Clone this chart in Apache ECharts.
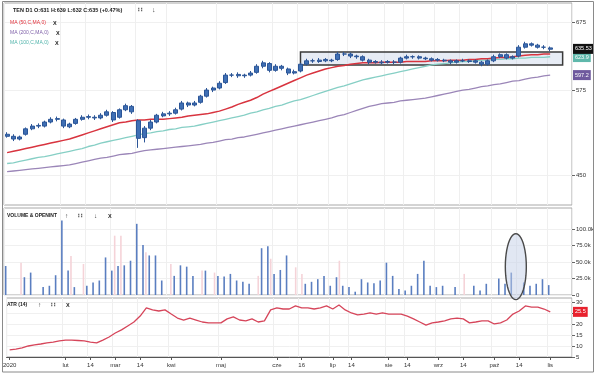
<!DOCTYPE html>
<html><head><meta charset="utf-8">
<script src="https://cdn.jsdelivr.net/npm/echarts@6/dist/echarts.min.js"></script>
<style>html,body{margin:0;padding:0;background:#fff}#c{width:600px;height:377px}</style>
</head><body><div id="c"></div>
<script>
const dates = ['2020-01-03','2020-01-07','2020-01-10','2020-01-14','2020-01-17','2020-01-21','2020-01-24','2020-01-28','2020-01-31',
'2020-02-04','2020-02-07','2020-02-11','2020-02-14','2020-02-18','2020-02-21','2020-02-25','2020-02-28',
'2020-03-03','2020-03-06','2020-03-10','2020-03-13','2020-03-17','2020-03-20','2020-03-24','2020-03-27','2020-03-31',
'2020-04-03','2020-04-07','2020-04-10','2020-04-14','2020-04-17','2020-04-21','2020-04-24','2020-04-28',
'2020-05-01','2020-05-05','2020-05-08','2020-05-12','2020-05-15','2020-05-19','2020-05-22','2020-05-26','2020-05-29',
'2020-06-02','2020-06-05','2020-06-09','2020-06-12','2020-06-16','2020-06-19','2020-06-23','2020-06-26','2020-06-30',
'2020-07-03','2020-07-07','2020-07-10','2020-07-14','2020-07-17','2020-07-21','2020-07-24','2020-07-28','2020-07-31',
'2020-08-04','2020-08-07','2020-08-11','2020-08-14','2020-08-18','2020-08-21','2020-08-25','2020-08-28',
'2020-09-01','2020-09-04','2020-09-08','2020-09-11','2020-09-15','2020-09-18','2020-09-22','2020-09-25','2020-09-29',
'2020-10-02','2020-10-06','2020-10-09','2020-10-13','2020-10-16','2020-10-20','2020-10-23','2020-10-27','2020-10-30',
'2020-11-03','2020-11-06','2020-11-10','2020-11-13'];

const tickDates = ['2020-01-03','2020-02-04','2020-02-18','2020-03-03','2020-03-17','2020-04-03','2020-05-01','2020-06-02','2020-06-16','2020-07-03','2020-07-14','2020-08-04','2020-08-14','2020-09-01','2020-09-15','2020-10-02','2020-10-16','2020-11-03'];
const tickTexts = ['2020','lut','14','mar','14','kwi','maj','cze','16','lip','14','sie','14','wrz','14','paź','14','lis'];

const priceTicks = [450, 575, 675];
const volTicks = [0, 25, 50, 75, 100];
const atrTicks = [5, 10, 15, 20, 25, 30];

const open = [510,507,503,510,518,523,522,528,533,531, 521,526,532,536,535,534,538,542,535,546, 551,530,505,519,528,537,540,541,547,556, 553,557,566,575,578,586,597,598,596,597, 601,610,614,604,610,606,600,603,613,618, 617,620,618,620,628,628,625,624,619,617, 615,617,616,616,622,624,624,622,621,620, 619,618,616,618,617,618,616,613,618,624, 627,622,625,638,643,641,638,637];
const close = [507,503,506,518,522,522,528,532,532,522, 525,532,535,535,534,538,543,531,546,552, 543,504,519,528,538,540,541,546,556,553, 556,566,575,578,585,597,597,596,597,600, 610,615,604,610,607,600,602,613,618,618, 619,618,619,628,628,625,624,619,616,616, 616,616,616,622,624,624,622,621,619,619, 618,616,618,618,618,616,613,618,624,627, 622,624,638,643,641,638,638,635];
const high = [513,510,508,520,525,526,530,535,536,533, 527,534,538,539,538,541,546,544,548,555, 553,532,522,531,540,543,544,549,559,558, 559,568,578,580,588,600,600,601,599,603, 613,618,616,613,612,608,605,615,621,621, 622,622,621,631,631,630,627,626,621,619, 619,619,619,624,627,626,626,624,623,622, 621,620,620,621,620,620,618,620,627,629, 629,626,641,646,645,643,641,639];
const low = [505,500,501,508,516,519,520,526,529,519, 519,524,530,532,531,532,536,528,533,544, 540,490,498,516,526,535,537,539,545,550, 551,555,564,572,576,584,594,593,593,595, 599,607,601,602,604,597,598,601,611,615, 615,616,616,618,625,622,621,617,613,614, 613,614,613,614,620,621,620,619,617,617, 616,613,614,616,615,614,610,611,616,622, 620,620,623,636,639,636,635,632];

const ma50 = [483,485,487,489,491,493,495,497,499,501, 503,506,509,512,515,518,521,524,527,528, 530,531,531,532,532,532,533,534,535,537, 538,539,540,542,544,547,550,554,557,560, 564,569,573,577,581,585,589,593,597,600, 603,606,608,610,611,613,614,615,615,615, 616,616,616,616,617,617,617,617,618,618, 618,619,619,619,620,620,621,621,622,623, 623,624,625,626,627,627,628,628];
const ma100 = [467,468,470,472,474,476,477,479,481,483, 485,487,489,492,494,497,499,501,503,505, 507,509,511,512,514,515,517,518,520,521, 522,524,526,528,530,532,534,536,538,541, 543,546,548,551,553,556,559,561,564,567, 570,573,576,579,581,584,587,590,592,594, 596,598,600,602,604,606,608,610,612,613, 614,615,616,617,617,618,619,619,620,620, 621,621,622,622,623,623,623,624];
const ma200 = [455,456,457,458,459,460,461,462,463,464, 465,467,469,471,473,475,476,478,480,481, 482,484,486,487,488,489,490,491,492,493, 494,495,497,498,500,502,503,505,506,508, 510,512,514,516,518,520,522,524,526,528, 530,532,534,537,539,542,545,548,551,553, 555,556,557,559,560,561,562,563,565,567, 569,571,573,575,576,578,580,581,583,584, 586,588,589,591,593,594,596,597];

const volBlue = [44,0,0,27,34,0,12,14,30,113, 37,12,0,14,19,22,57,37,44,45, 52,108,76,60,60,22,0,29,45,43, 29,0,37,0,29,28,32,22,20,17, 0,71,74,32,38,60,0,0,17,20, 24,29,14,27,14,12,5,24,19,18, 22,49,29,9,7,14,32,52,14,12, 14,0,12,0,0,14,7,17,0,25, 17,34,0,19,14,17,24,15];
const volPink = [0,0,49,0,0,0,0,0,0,0, 59,0,47,0,0,0,0,90,90,0, 0,0,65,0,0,0,47,0,0,0, 0,37,0,34,0,0,0,0,0,0, 29,0,55,0,0,0,42,32,0,0, 0,0,0,52,0,0,0,0,0,0, 0,0,0,0,0,0,0,0,0,0, 0,0,0,32,0,0,0,0,0,0, 0,0,0,0,0,0,0,0];

const atr = [8.2,8.6,9.1,10.0,10.5,10.9,11.4,11.8,12.3,12.7, 12.7,12.5,12.3,11.8,11.4,12.7,14.1,15.9,17.3,19.1, 20.9,23.6,27.3,26.4,25.9,26.4,24.5,22.7,21.8,22.7, 21.8,20.9,20.5,20.5,20.5,22.3,23.2,21.8,21.4,22.3, 20.9,21.4,26.4,27.3,26.8,26.8,28.2,27.3,27.3,26.8, 27.3,28.2,26.8,28.6,26.4,25.0,24.1,24.5,25.0,24.5, 25.0,24.5,24.5,24.5,23.6,22.3,20.9,19.5,20.5,20.9, 21.4,22.3,22.7,22.3,20.5,20.9,21.4,21.4,20.0,20.5, 21.8,24.5,25.9,28.2,27.7,27.7,26.8,25.5];

const labelMap = {};
tickDates.forEach((d, i) => { labelMap[d] = tickTexts[i]; });
const isTick = (idx, val) => labelMap[val] !== undefined;

const FONT = 'Liberation Sans, Arial, sans-serif';
const candles = open.map((o, i) => [o, close[i], low[i], high[i]]);

function txt(id, x, y, text, color, size, weight) {
  return {type: 'text', id: id, x: x, y: y, z: 50,
    style: {text: text, fill: color, font: (weight || 'normal') + ' ' + size + 'px ' + FONT, verticalAlign: 'middle'}};
}

const gridBase = {left: 4, right: 28, show: true, borderColor: '#a8a8a8', borderWidth: 1, backgroundColor: '#fff'};
const xAxes = [0, 1, 2].map(k => ({
  type: 'category', gridIndex: k, data: dates, boundaryGap: true,
  axisLine: {show: k === 2, lineStyle: {color: '#555', width: 1}},
  axisTick: {show: k === 2, interval: isTick, alignWithLabel: true, length: 3, lineStyle: {color: '#555'}},
  axisLabel: {show: k === 2, interval: isTick, formatter: v => labelMap[v] || '', fontSize: 6, color: '#333', margin: 5, fontFamily: FONT},
  splitLine: {show: true, interval: isTick, lineStyle: {color: '#efefef', width: 1}}
}));

function yAx(k, min, max, ticks, fmt) {
  return {type: 'value', gridIndex: k, position: 'right', min: min, max: max,
    axisLine: {show: false},
    axisTick: {show: true, customValues: ticks, length: 3, lineStyle: {color: '#666'}},
    axisLabel: {customValues: ticks, fontSize: 6, color: '#333', margin: 4, fontFamily: FONT, formatter: fmt},
    splitLine: {show: true, lineStyle: {color: '#f0f0f0'}}};
}

function tag(val, text, bg, fg) {
  return {symbol: ['none', 'none'], silent: true, animation: false,
    lineStyle: {color: 'rgba(0,0,0,0)', width: 0, type: 'solid'},
    label: {show: true},
    emphasis: {disabled: true},
    data: [{yAxis: val, label: {show: true, position: 'end', distance: 1, formatter: text,
      backgroundColor: bg, color: fg, fontSize: 5.5, padding: [2, 2], fontFamily: FONT, opacity: 1}}]};
}

const option = {
  animation: false,
  backgroundColor: '#fff',
  grid: [
    Object.assign({}, gridBase, {top: 3, height: 202}),
    Object.assign({}, gridBase, {top: 208, height: 87}),
    Object.assign({}, gridBase, {top: 298, height: 59})
  ],
  xAxis: xAxes,
  yAxis: [
    yAx(0, 406, 703, priceTicks, v => String(v)),
    yAx(1, 0, 132, volTicks, v => v === 0 ? '0' : v.toFixed(1) + 'k'),
    yAx(2, 5, 31.8, atrTicks, v => String(v))
  ],
  series: [
    {type: 'line', name: 'MA200', xAxisIndex: 0, yAxisIndex: 0, data: ma200, symbol: 'none',
      lineStyle: {color: '#9b86b8', width: 1.3}, z: 2, markLine: tag(597, '597.2', '#6f5a9e', '#fff')},
    {type: 'line', name: 'MA100', xAxisIndex: 0, yAxisIndex: 0, data: ma100, symbol: 'none',
      lineStyle: {color: '#86cfc5', width: 1.3}, z: 2, markLine: tag(623.5, '623.9', '#5fb8ab', '#fff')},
    {type: 'line', name: 'MA50', xAxisIndex: 0, yAxisIndex: 0, data: ma50, symbol: 'none',
      lineStyle: {color: '#d8343f', width: 1.5}, z: 3},
    {type: 'candlestick', name: 'TEN', xAxisIndex: 0, yAxisIndex: 0, data: candles, barWidth: 4.5, z: 4,
      itemStyle: {color: '#3f6fb4', color0: '#3f6fb4', borderColor: '#2b5597', borderColor0: '#2b5597', borderWidth: 1},
      markLine: tag(635.53, '635.53', '#111', '#fff'),
      markArea: {silent: true,
        itemStyle: {color: 'rgba(180,196,224,0.32)', borderColor: '#3a3a3a', borderWidth: 1.5},
        data: [[{xAxis: dates[47], yAxis: 631}, {xAxis: dates[89], yAxis: 612}]]}},
    {type: 'bar', name: 'Volume', xAxisIndex: 1, yAxisIndex: 1, data: volBlue, barWidth: 1.6, barGap: '80%',
      itemStyle: {color: '#5a7ec0'}},
    {type: 'bar', name: 'OpenInt', xAxisIndex: 1, yAxisIndex: 1, data: volPink, barWidth: 1.6, barGap: '80%',
      itemStyle: {color: '#f5d3d8'}},
    {type: 'line', name: 'ATR', xAxisIndex: 2, yAxisIndex: 2, data: atr, symbol: 'none',
      lineStyle: {color: '#d6455a', width: 1.3}, markLine: tag(25.5, '25.5', '#e8222e', '#fff')}
  ],
  graphic: [
    {type: 'rect', id: 'frame', shape: {x: 2.5, y: 1.5, width: 591, height: 370.5}, style: {fill: 'none', stroke: '#8a8a8a', lineWidth: 1}, z: 60, silent: true},
    txt('h1', 13, 10, 'TEN D1 O:631 H:639 L:632 C:635 (+0.47%)', '#222', 5.5, 'bold'),
    txt('h2', 138, 10, '∷', '#444', 7, 'bold'),
    txt('h3', 152, 10, '↓', '#444', 7, 'bold'),
    txt('l1', 10, 23, 'MA (50,C,MA,0)', '#e0303a', 5),
    txt('l1x', 53, 23, 'X', '#222', 5.5, 'bold'),
    txt('l2', 10, 33, 'MA (200,C,MA,0)', '#7e5fa8', 5),
    txt('l2x', 56, 33, 'X', '#222', 5.5, 'bold'),
    txt('l3', 10, 43, 'MA (100,C,MA,0)', '#4fb3aa', 5),
    txt('l3x', 55, 43, 'X', '#222', 5.5, 'bold'),
    txt('v1', 7, 216, 'VOLUME & OPENINT', '#222', 5, 'bold'),
    txt('v2', 65, 216, '↑', '#444', 6.5, 'bold'),
    txt('v3', 78, 216, '∷', '#444', 7, 'bold'),
    txt('v4', 94, 216, '↓', '#444', 6.5, 'bold'),
    txt('v5', 108, 216, 'X', '#222', 5.5, 'bold'),
    txt('a1', 7, 305, 'ATR (14)', '#222', 5, 'bold'),
    txt('a2', 38, 305, '↑', '#444', 6.5, 'bold'),
    txt('a3', 51, 305, '∷', '#444', 7, 'bold'),
    txt('a4', 66, 305, 'X', '#222', 5.5, 'bold')
  ]
};

const chart = echarts.init(document.getElementById('c'), null, {renderer: 'canvas'});
chart.setOption(option);

// annotation ellipse placed through the volume pane's scales
const pA = chart.convertToPixel({xAxisIndex: 1, yAxisIndex: 1}, [dates[81], 43]);
const pB = chart.convertToPixel({xAxisIndex: 1, yAxisIndex: 1}, [dates[82], 43]);
const cx = (pA[0] + pB[0]) / 2, cy = pA[1];
const pts = [];
for (let k = 0; k < 48; k++) {
  const t = k / 48 * Math.PI * 2;
  pts.push([cx + 10.5 * Math.cos(t), cy + 33 * Math.sin(t)]);
}
chart.setOption({graphic: [{type: 'polygon', id: 'ell', shape: {points: pts},
  style: {fill: 'rgba(195,208,232,0.5)', stroke: '#4a4a4a', lineWidth: 1.4}, z: 40, silent: true}]});
</script>
</body></html>
